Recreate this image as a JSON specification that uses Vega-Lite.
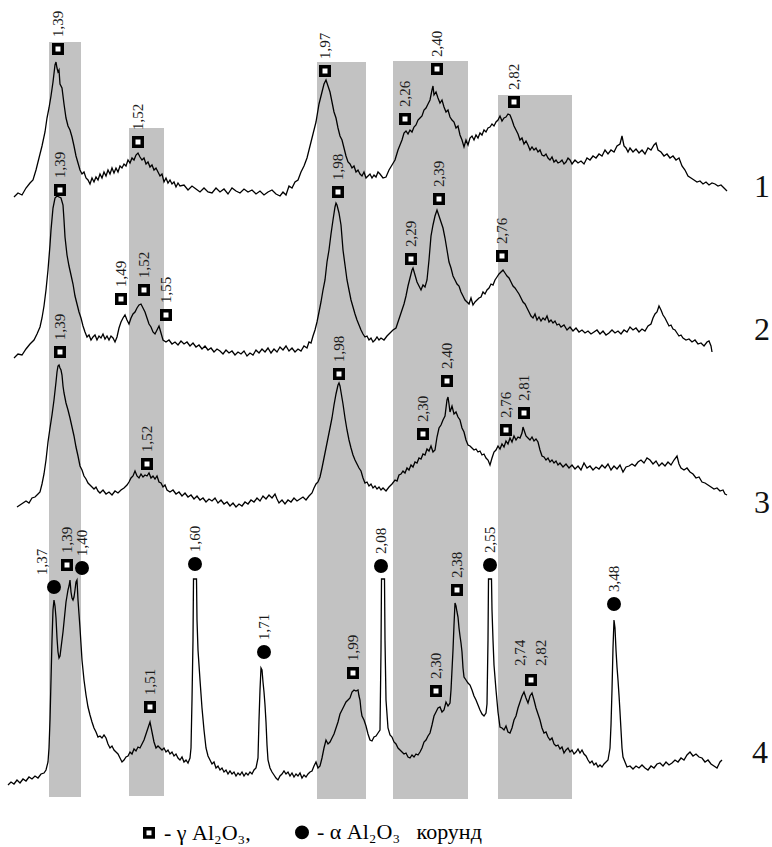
{
"$schema": "https://vega.github.io/schema/vega-lite/v6.json",
"width": 772, "height": 847, "padding": 0, "autosize": {"type": "none"},
"background": "white",
"config": {"view": {"stroke": null}},
"datasets": {
"bands": [
{"x1":49,"x2":81,"top":42,"bottom":797},
{"x1":129,"x2":164,"top":128,"bottom":796},
{"x1":317,"x2":366,"top":62,"bottom":799},
{"x1":393,"x2":468,"top":61,"bottom":799},
{"x1":498,"x2":572,"top":95,"bottom":799}
],
"t1": [[14,197],[18,193],[22,195],[26,188],[30,183],[33,180],[36,170],[39,158],[42,146],[45,132],[47,118],[49,108],[51,96],[53,82],[55,65],[56,62],[57,68],[58,72],[59,70],[60,84],[62,88],[64,104],[66,118],[68,126],[70,130],[72,137],[74,146],[76,156],[78,163],[80,170],[82,174],[84,172],[86,178],[88,180],[90,184],[92,178],[94,182],[96,177],[98,180],[100,174],[102,178],[104,172],[106,176],[108,170],[110,174],[112,168],[114,173],[116,168],[118,172],[120,166],[122,168],[124,164],[126,166],[128,160],[130,163],[132,158],[134,160],[136,155],[138,153],[140,157],[142,160],[144,158],[146,164],[148,162],[150,167],[152,165],[154,170],[156,168],[158,172],[160,176],[162,174],[164,182],[166,178],[168,183],[170,180],[172,184],[174,182],[176,187],[178,183],[180,186],[184,185],[188,190],[192,186],[196,189],[200,192],[204,188],[208,192],[212,193],[216,188],[220,192],[224,189],[228,194],[232,188],[236,191],[240,193],[244,189],[248,192],[252,190],[256,194],[260,191],[264,195],[268,192],[272,190],[276,194],[280,196],[283,192],[286,195],[289,186],[292,188],[295,182],[298,180],[301,172],[304,166],[307,158],[310,146],[313,134],[316,122],[319,104],[322,92],[324,84],[326,80],[328,86],[330,92],[332,102],[334,112],[336,118],[338,128],[340,136],[342,140],[344,148],[346,156],[348,162],[350,164],[352,168],[354,166],[356,172],[358,170],[360,174],[362,176],[364,172],[366,178],[368,176],[370,174],[372,178],[374,175],[376,177],[378,172],[380,174],[383,178],[386,177],[389,170],[392,165],[395,160],[398,150],[400,145],[402,140],[404,133],[406,131],[408,134],[410,130],[412,132],[414,127],[416,125],[418,120],[420,118],[422,116],[424,110],[426,108],[428,104],[430,100],[432,90],[433,86],[434,95],[436,92],[438,98],[440,103],[442,100],[444,107],[446,112],[448,110],[450,117],[452,120],[454,122],[456,128],[458,126],[460,135],[462,140],[464,147],[466,140],[468,145],[470,138],[472,136],[474,140],[476,135],[478,138],[480,133],[482,135],[484,130],[486,132],[488,128],[490,127],[492,124],[494,126],[496,122],[498,120],[500,116],[502,121],[504,118],[506,117],[508,114],[510,115],[512,120],[514,126],[516,130],[518,134],[520,140],[522,138],[524,144],[526,141],[528,145],[530,150],[532,147],[534,150],[536,148],[538,152],[540,150],[542,155],[544,156],[546,154],[548,158],[550,160],[552,157],[554,162],[556,160],[558,163],[560,162],[562,160],[564,164],[566,162],[568,158],[570,160],[572,164],[575,160],[578,163],[581,161],[584,164],[587,158],[590,160],[593,156],[596,158],[599,154],[602,156],[605,150],[608,154],[611,150],[614,152],[617,146],[620,144],[622,136],[624,146],[626,148],[628,152],[630,148],[633,152],[636,149],[639,153],[642,150],[645,154],[648,148],[651,150],[654,145],[656,143],[658,150],[661,152],[664,156],[667,154],[670,158],[673,156],[676,160],[679,158],[682,166],[685,170],[688,176],[691,178],[694,180],[697,182],[700,181],[703,184],[706,182],[709,185],[712,183],[715,184],[718,186],[721,185],[724,188],[727,191]],
"t2": [[14,358],[18,354],[22,355],[26,349],[30,344],[34,340],[37,334],[40,327],[42,318],[44,306],[46,290],[48,270],[50,245],[51,230],[53,208],[55,198],[57,196],[59,197],[61,198],[63,205],[64,220],[65,237],[67,255],[69,266],[71,275],[73,284],[75,296],[77,304],[79,312],[81,318],[83,326],[85,332],[87,337],[89,335],[91,340],[93,337],[95,335],[97,340],[99,336],[101,338],[103,334],[105,339],[107,336],[109,340],[111,336],[113,338],[115,342],[117,337],[119,328],[121,322],[123,318],[125,315],[127,320],[129,324],[131,318],[133,314],[135,312],[137,308],[139,305],[141,304],[143,308],[145,312],[147,318],[149,324],[151,327],[153,332],[155,334],[157,330],[159,326],[161,333],[163,340],[166,342],[169,340],[172,344],[175,342],[178,345],[181,341],[184,344],[187,342],[190,346],[193,343],[196,347],[199,345],[202,349],[205,346],[208,350],[211,348],[214,352],[217,349],[220,351],[223,354],[226,350],[229,353],[232,351],[235,355],[238,352],[241,354],[244,351],[247,356],[250,353],[253,355],[256,350],[259,353],[262,349],[265,352],[268,348],[271,353],[274,349],[277,352],[280,347],[283,350],[286,346],[289,351],[292,348],[295,352],[298,349],[301,351],[304,346],[307,348],[309,342],[311,343],[313,336],[315,330],[317,322],[319,312],[321,302],[323,290],[325,280],[327,262],[329,250],[331,234],[333,220],[335,207],[336,203],[337,205],[339,213],[341,225],[343,250],[345,265],[347,280],[349,290],[351,300],[353,307],[355,314],[357,320],[359,325],[361,330],[363,334],[365,337],[367,336],[369,340],[371,338],[373,342],[375,340],[377,337],[379,340],[381,338],[384,340],[387,336],[390,333],[393,330],[396,328],[398,322],[400,316],[402,310],[404,304],[406,296],[408,286],[410,278],[412,270],[413,268],[415,275],[417,282],[419,286],[421,290],[423,285],[425,287],[427,280],[429,260],[431,236],[433,225],[435,216],[437,210],[439,216],[441,222],[443,228],[445,238],[447,250],[449,262],[451,268],[453,276],[455,280],[457,284],[459,286],[461,292],[463,296],[465,300],[467,302],[469,304],[471,298],[473,305],[475,302],[477,300],[479,298],[481,297],[483,292],[485,294],[487,290],[489,288],[491,284],[493,285],[495,280],[497,277],[499,274],[501,272],[503,270],[505,273],[507,276],[509,278],[511,282],[513,286],[515,288],[517,291],[519,294],[521,298],[523,302],[525,304],[527,308],[529,312],[531,316],[533,318],[535,314],[537,320],[539,317],[541,321],[543,318],[545,320],[547,316],[549,322],[551,320],[553,323],[555,321],[557,325],[559,324],[561,327],[564,325],[567,330],[570,327],[573,331],[576,328],[579,332],[582,330],[585,333],[588,331],[591,334],[594,332],[597,330],[600,334],[603,331],[606,335],[609,333],[612,330],[615,333],[618,331],[621,334],[624,330],[627,332],[630,327],[633,330],[636,328],[639,332],[642,329],[645,331],[648,326],[651,324],[653,318],[655,314],[657,312],[659,306],[661,310],[663,315],[665,318],[667,322],[669,326],[671,325],[673,329],[675,330],[677,333],[679,336],[681,335],[683,338],[686,340],[689,339],[692,342],[695,340],[698,344],[701,343],[704,346],[707,342],[709,341],[711,346],[712,352]],
"t3": [[17,507],[20,505],[23,503],[26,501],[29,503],[32,498],[35,497],[38,494],[40,492],[42,484],[44,474],[46,460],[48,442],[50,428],[52,415],[54,400],[56,382],[57,372],[58,366],[59,365],[60,368],[61,370],[62,375],[63,386],[64,393],[66,403],[68,410],[70,418],[72,427],[74,436],[76,447],[78,456],[80,466],[82,470],[84,476],[86,479],[88,483],[90,485],[92,487],[94,489],[96,487],[98,491],[100,493],[103,490],[106,494],[109,492],[112,495],[115,491],[118,493],[121,490],[124,488],[127,485],[129,482],[131,478],[133,476],[135,471],[137,476],[139,478],[141,474],[143,477],[145,475],[147,476],[149,473],[151,478],[153,476],[155,479],[157,476],[159,482],[161,483],[163,487],[165,485],[167,490],[170,492],[173,490],[176,494],[179,492],[182,496],[185,493],[188,497],[191,495],[194,499],[197,496],[200,500],[203,498],[206,502],[209,499],[212,501],[215,498],[218,503],[221,500],[224,504],[227,502],[230,506],[233,503],[236,507],[239,504],[242,506],[245,502],[248,504],[251,500],[254,502],[257,498],[260,501],[263,496],[266,499],[269,495],[272,498],[275,494],[277,499],[279,503],[282,500],[285,504],[288,500],[291,502],[294,498],[297,501],[300,499],[303,497],[306,500],[309,496],[312,493],[314,488],[316,484],[318,482],[320,477],[322,468],[324,458],[326,448],[328,438],[330,428],[332,418],[334,405],[336,394],[338,385],[339,383],[340,386],[341,392],[343,404],[345,418],[347,430],[349,440],[351,448],[353,455],[355,460],[357,464],[359,468],[361,471],[363,478],[365,483],[367,482],[369,486],[371,484],[373,488],[375,486],[377,489],[379,487],[381,490],[383,488],[386,491],[389,487],[392,484],[395,480],[397,481],[399,475],[401,474],[403,471],[405,473],[407,468],[409,470],[411,465],[413,467],[415,462],[417,463],[419,458],[421,459],[423,454],[425,455],[427,449],[429,451],[431,446],[433,452],[435,450],[437,437],[439,428],[441,425],[443,420],[445,416],[447,400],[448,397],[449,404],[450,412],[452,406],[454,414],[456,412],[458,417],[460,420],[462,428],[464,432],[466,440],[468,445],[470,446],[472,448],[474,450],[476,449],[478,452],[480,451],[482,455],[484,454],[486,458],[488,460],[490,465],[492,458],[494,452],[496,450],[498,446],[500,449],[502,444],[504,447],[506,441],[508,444],[510,438],[512,442],[514,436],[516,440],[518,437],[520,438],[522,433],[523,427],[524,430],[526,436],[528,438],[530,440],[532,437],[534,441],[536,439],[538,442],[540,450],[542,456],[544,457],[546,460],[548,458],[550,462],[552,460],[554,463],[556,461],[558,465],[560,463],[563,467],[566,464],[569,468],[572,465],[575,469],[578,466],[581,470],[584,463],[587,468],[590,466],[593,470],[596,467],[599,469],[602,465],[605,468],[608,464],[611,470],[614,466],[617,469],[620,465],[623,472],[626,467],[629,466],[632,464],[635,466],[638,462],[641,460],[644,463],[647,458],[650,460],[653,464],[656,461],[659,466],[662,463],[665,466],[668,462],[671,465],[674,460],[677,456],[679,464],[681,468],[684,470],[687,468],[690,472],[693,474],[696,478],[699,477],[702,482],[705,483],[708,485],[711,487],[714,489],[717,488],[720,491],[723,490],[725,494],[727,495]],
"t4": [[8,785],[11,782],[14,784],[17,780],[20,783],[23,779],[26,781],[29,777],[32,779],[35,776],[38,778],[41,774],[44,773],[46,770],[48,762],[49,748],[50,720],[51,680],[52,640],[53,610],[54,600],[55,606],[56,618],[57,638],[58,652],[59,658],[60,656],[61,648],[62,640],[63,632],[64,622],[65,612],[66,602],[67,596],[68,590],[69,586],[70,580],[71,592],[72,598],[73,600],[74,597],[75,590],[76,582],[77,580],[78,600],[79,614],[80,628],[82,660],[84,680],[86,695],[88,707],[90,715],[92,722],[94,728],[96,732],[98,737],[100,736],[102,738],[104,735],[106,738],[108,744],[110,748],[112,746],[114,750],[116,752],[118,754],[120,758],[122,762],[124,760],[126,757],[128,756],[130,752],[132,754],[134,749],[136,751],[138,747],[140,748],[142,744],[144,740],[146,734],[148,728],[150,722],[152,732],[154,742],[156,748],[158,746],[160,748],[162,750],[164,748],[166,752],[168,750],[170,754],[172,752],[174,756],[176,754],[178,758],[180,760],[182,757],[184,762],[186,760],[188,763],[190,758],[191,748],[192,700],[193,640],[193.5,579],[196.5,579],[197,620],[198,650],[200,680],[202,708],[204,730],[206,748],[208,756],[210,760],[212,764],[214,762],[216,768],[218,766],[220,770],[222,768],[224,772],[226,770],[228,774],[230,771],[232,774],[234,772],[236,776],[238,773],[240,775],[242,772],[244,776],[246,773],[248,775],[250,772],[252,774],[254,770],[256,768],[258,758],[259,720],[260,690],[261,668],[262,670],[263,682],[264,692],[265,705],[266,722],[267,745],[268,760],[270,768],[272,772],[274,775],[276,778],[278,780],[280,776],[282,774],[284,771],[286,774],[288,772],[290,776],[292,773],[294,777],[296,774],[298,776],[300,773],[302,778],[304,775],[306,777],[308,774],[310,772],[312,771],[314,766],[316,762],[318,768],[320,766],[322,758],[324,748],[326,740],[328,744],[330,742],[332,738],[334,734],[336,728],[338,722],[340,714],[342,710],[344,706],[346,702],[348,700],[350,698],[352,692],[354,690],[356,691],[358,690],[359,696],[360,700],[361,710],[362,716],[364,720],[366,726],[368,734],[370,740],[372,741],[374,737],[376,736],[378,733],[380,730],[381,650],[381.5,579],[384.5,579],[385,640],[386,700],[388,728],[390,735],[392,737],[394,742],[396,744],[398,748],[400,750],[402,752],[404,754],[406,753],[408,757],[410,758],[412,755],[414,757],[416,754],[418,755],[420,752],[422,748],[424,742],[426,740],[428,736],[430,733],[432,725],[434,716],[436,712],[438,708],[440,707],[442,712],[444,710],[446,702],[448,706],[450,703],[451,690],[452,670],[453,650],[454,625],[455,603],[456,606],[457,612],[458,617],[459,628],[460,636],[461,643],[462,652],[463,668],[464,677],[466,680],[468,683],[470,685],[472,690],[474,696],[476,700],[478,705],[480,710],[482,714],[484,716],[486,713],[487,704],[488,640],[488.5,579],[491.5,579],[492,610],[493,640],[494,665],[496,690],[498,712],[500,727],[502,728],[504,730],[506,726],[508,732],[510,733],[512,728],[514,720],[516,716],[518,708],[520,702],[522,696],[524,692],[526,698],[528,703],[530,696],[532,693],[534,700],[536,708],[538,714],[540,720],[542,728],[544,733],[546,732],[548,737],[550,740],[552,738],[554,744],[556,746],[558,745],[560,749],[562,747],[564,753],[566,750],[568,748],[570,752],[572,750],[574,754],[576,752],[578,749],[580,753],[582,750],[584,754],[586,756],[588,760],[590,763],[592,761],[594,765],[596,763],[598,767],[600,765],[602,767],[604,764],[606,762],[608,760],[610,748],[611,725],[612,690],[613,648],[614,620],[615,628],[616,650],[617,667],[618,680],[619,695],[620,712],[621,730],[622,748],[623,757],[625,762],[627,767],[630,766],[633,769],[636,766],[639,768],[642,765],[645,768],[648,770],[651,766],[654,768],[657,764],[660,763],[663,766],[666,762],[669,765],[672,763],[675,760],[678,762],[681,758],[684,760],[687,755],[690,752],[693,756],[696,754],[699,757],[702,758],[705,762],[708,760],[711,764],[714,766],[717,768],[720,762],[722,760]],
"peaks": [
{"x":58,"y":49,"label":"1,39","phase":"γ"},
{"x":138,"y":142,"label":"1,52","phase":"γ"},
{"x":325,"y":71,"label":"1,97","phase":"γ"},
{"x":405,"y":119,"label":"2,26","phase":"γ"},
{"x":437,"y":69,"label":"2,40","phase":"γ"},
{"x":514,"y":102,"label":"2,82","phase":"γ"},
{"x":60,"y":190,"label":"1,39","phase":"γ"},
{"x":121,"y":299,"label":"1,49","phase":"γ"},
{"x":144,"y":290,"label":"1,52","phase":"γ"},
{"x":166,"y":315,"label":"1,55","phase":"γ"},
{"x":338,"y":192,"label":"1,98","phase":"γ"},
{"x":411,"y":259,"label":"2,29","phase":"γ"},
{"x":439,"y":199,"label":"2,39","phase":"γ"},
{"x":502,"y":256,"label":"2,76","phase":"γ"},
{"x":60,"y":352,"label":"1,39","phase":"γ"},
{"x":147,"y":464,"label":"1,52","phase":"γ"},
{"x":339,"y":374,"label":"1,98","phase":"γ"},
{"x":423,"y":434,"label":"2,30","phase":"γ"},
{"x":447,"y":381,"label":"2,40","phase":"γ"},
{"x":506,"y":430,"label":"2,76","phase":"γ"},
{"x":524,"y":413,"label":"2,81","phase":"γ"},
{"x":54,"y":587,"label":"1,37","phase":"α"},
{"x":67,"y":565,"label":"1,39","phase":"γ"},
{"x":82,"y":568,"label":"1,40","phase":"α"},
{"x":150,"y":707,"label":"1,51","phase":"γ"},
{"x":195,"y":564,"label":"1,60","phase":"α"},
{"x":264,"y":652,"label":"1,71","phase":"α"},
{"x":353,"y":673,"label":"1,99","phase":"γ"},
{"x":381,"y":566,"label":"2,08","phase":"α"},
{"x":436,"y":691,"label":"2,30","phase":"γ"},
{"x":457,"y":590,"label":"2,38","phase":"γ"},
{"x":490,"y":565,"label":"2,55","phase":"α"},
{"x":531,"y":680,"label":"2,74\n2,82","phase":"γ"},
{"x":614,"y":604,"label":"3,48","phase":"α"}
],
"numbers": [
{"x":762,"y":187,"t":"1"},
{"x":762,"y":330,"t":"2"},
{"x":762,"y":503,"t":"3"},
{"x":760,"y":753,"t":"4"}
]
},
"layer": [
{
"data": {"name": "bands"},
"mark": {"type": "rect", "color": "#c2c2c2"},
"encoding": {
"x": {"field": "x1", "type": "quantitative", "scale": {"domain": [0, 772], "nice": false, "zero": false}, "axis": null},
"x2": {"field": "x2"},
"y": {"field": "top", "type": "quantitative", "scale": {"domain": [0, 847], "nice": false, "zero": false, "reverse": true}, "axis": null},
"y2": {"field": "bottom"}
}
},
{
"data": {"name": "t1"},
"transform": [{"calculate": "datum[0]", "as": "px"}, {"calculate": "datum[1]", "as": "py"}],
"mark": {"type": "line", "color": "black", "strokeWidth": 1.3},
"encoding": {
"x": {"field": "px", "type": "quantitative", "axis": null},
"y": {"field": "py", "type": "quantitative", "axis": null}
}
},
{
"data": {"name": "t2"},
"transform": [{"calculate": "datum[0]", "as": "px"}, {"calculate": "datum[1]", "as": "py"}],
"mark": {"type": "line", "color": "black", "strokeWidth": 1.3},
"encoding": {
"x": {"field": "px", "type": "quantitative", "axis": null},
"y": {"field": "py", "type": "quantitative", "axis": null}
}
},
{
"data": {"name": "t3"},
"transform": [{"calculate": "datum[0]", "as": "px"}, {"calculate": "datum[1]", "as": "py"}],
"mark": {"type": "line", "color": "black", "strokeWidth": 1.3},
"encoding": {
"x": {"field": "px", "type": "quantitative", "axis": null},
"y": {"field": "py", "type": "quantitative", "axis": null}
}
},
{
"data": {"name": "t4"},
"transform": [{"calculate": "datum[0]", "as": "px"}, {"calculate": "datum[1]", "as": "py"}],
"mark": {"type": "line", "color": "black", "strokeWidth": 1.3},
"encoding": {
"x": {"field": "px", "type": "quantitative", "axis": null},
"y": {"field": "py", "type": "quantitative", "axis": null}
}
},
{
"data": {"name": "peaks"},
"mark": {"type": "point", "filled": true, "stroke": "black", "strokeWidth": 3.5, "opacity": 1},
"encoding": {
"x": {"field": "x", "type": "quantitative", "axis": null},
"y": {"field": "y", "type": "quantitative", "axis": null},
"shape": {"field": "phase", "type": "nominal", "scale": {"domain": ["γ", "α"], "range": ["square", "circle"]},
  "legend": {"orient": "none", "legendX": 138, "legendY": 821, "direction": "horizontal", "title": null,
    "labelExpr": "datum.label == 'γ' ? '- γ Al₂O₃,' : '- α Al₂O₃\u00a0\u00a0\u00a0корунд'",
    "labelFont": "Liberation Serif", "labelFontSize": 22, "labelColor": "black", "labelLimit": 400,
    "symbolStrokeColor": "black", "symbolStrokeWidth": 3.5, "columnPadding": 38, "labelOffset": 4, "padding": 0}},
"fill": {"field": "phase", "type": "nominal", "scale": {"domain": ["γ", "α"], "range": ["white", "black"]}},
"size": {"field": "phase", "type": "nominal", "scale": {"domain": ["γ", "α"], "range": [72, 110]}}
}
},
{
"data": {"name": "peaks"},
"transform": [{"filter": "datum.label != '1,37' && datum.label != '2,74\\n2,82'"}],
"mark": {"type": "text", "angle": 270, "align": "left", "baseline": "middle", "dx": 12, "font": "Liberation Serif", "fontSize": 15, "color": "#1a1a1a"},
"encoding": {
"x": {"field": "x", "type": "quantitative", "axis": null},
"y": {"field": "y", "type": "quantitative", "axis": null},
"text": {"field": "label"}
}
},
{
"data": {"name": "peaks"},
"transform": [{"filter": "datum.label == '1,37'"}],
"mark": {"type": "text", "angle": 270, "align": "left", "baseline": "middle", "dx": 12, "dy": -12, "font": "Liberation Serif", "fontSize": 15, "color": "#1a1a1a"},
"encoding": {
"x": {"field": "x", "type": "quantitative", "axis": null},
"y": {"field": "y", "type": "quantitative", "axis": null},
"text": {"field": "label"}
}
},
{
"data": {"name": "peaks"},
"transform": [{"filter": "datum.label == '2,74\\n2,82'"}],
"mark": {"type": "text", "angle": 270, "align": "left", "baseline": "middle", "dx": 14, "dy": -11, "font": "Liberation Serif", "fontSize": 15, "color": "#1a1a1a", "lineBreak": "\n", "lineHeight": 21},
"encoding": {
"x": {"field": "x", "type": "quantitative", "axis": null},
"y": {"field": "y", "type": "quantitative", "axis": null},
"text": {"field": "label"}
}
},
{
"data": {"name": "numbers"},
"mark": {"type": "text", "align": "center", "baseline": "middle", "font": "Liberation Serif", "fontSize": 32, "color": "#111"},
"encoding": {
"x": {"field": "x", "type": "quantitative", "axis": null},
"y": {"field": "y", "type": "quantitative", "axis": null},
"text": {"field": "t"}
}
}
]
}
